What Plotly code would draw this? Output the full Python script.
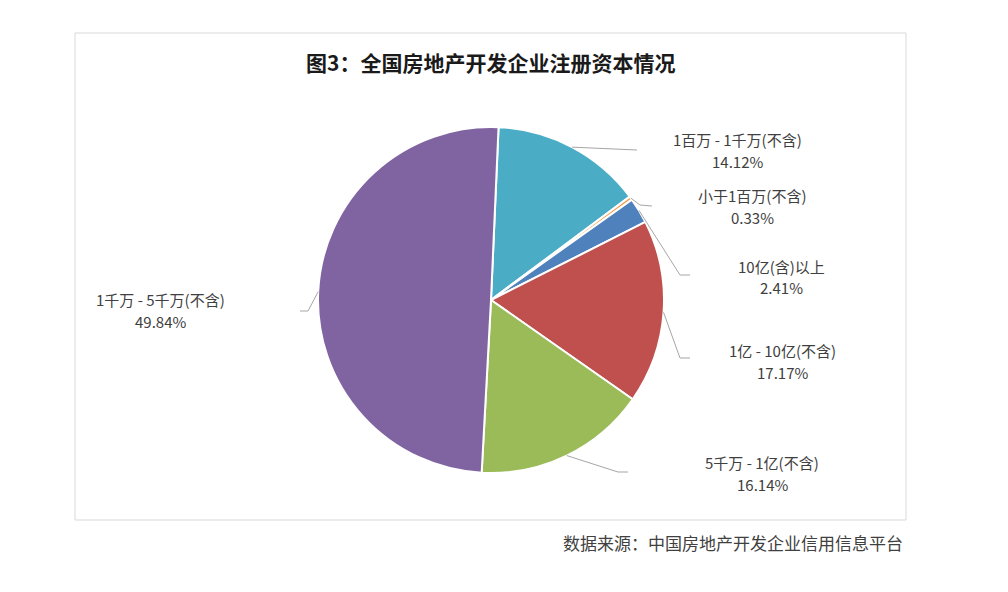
import math
import plotly.graph_objects as go

# data
labels = ['1百万 - 1千万(不含)', '小于1百万(不含)', '10亿(含)以上',
          '1亿 - 10亿(不含)', '5千万 - 1亿(不含)', '1千万 - 5千万(不含)']
values = [14.12, 0.33, 2.41, 17.17, 16.14, 49.84]
colors = ['#4BACC6', '#F79646', '#4F81BD', '#C0504D', '#9BBB59', '#8064A2']

# page has an 8px body margin, so the figure is 1000x584 drawn at (8, 8)
OFF = 8
W, H = 1000, 584
cx, cy, r = 491, 300, 173
rot = 2.5

# label anchor (text center) and leader elbow/end, in window pixels
label_pos = [(737, 150), (752, 206), (781, 277), (782, 361), (762, 473), (160, 310)]
elbows = [(637, 150), (640, 205), (680, 275), (680, 358), (618, 472), (308, 311)]
ends = [(637, 150), (652, 206), (690, 275), (690, 358), (628, 472), (300, 311)]


def px(x, y):
    return (x - OFF) / W, 1 - (y - OFF) / H


x0d, y1d = px(cx - r, cy - r)
x1d, y0d = px(cx + r, cy + r)
fig = go.Figure(go.Pie(
    labels=labels, values=values, sort=False, direction='clockwise',
    rotation=rot, textinfo='none', hoverinfo='label+percent',
    marker=dict(colors=colors, line=dict(color='white', width=2)),
    domain=dict(x=[x0d, x1d], y=[y0d, y1d]),
    showlegend=False,
))

fx0, fy1 = px(75, 33)
fx1, fy0 = px(906, 520)
shapes = [dict(type='rect', xref='paper', yref='paper',
               x0=fx0, x1=fx1, y0=fy0, y1=fy1,
               line=dict(color='#D9D9D9', width=1), layer='below')]
annotations = []

total = sum(values)
acc = 0
for i, v in enumerate(values):
    mid = rot + (acc + v / 2) / total * 360
    acc += v
    a = math.radians(mid)
    sx, sy = cx + r * math.sin(a), cy - r * math.cos(a)
    pts = [(sx, sy), elbows[i], ends[i]]
    path = 'M ' + ' L '.join('%f,%f' % px(*p) for p in pts)
    shapes.append(dict(type='path', xref='paper', yref='paper', path=path,
                       line=dict(color='#A6A6A6', width=1)))
    lx0, ly0 = label_pos[i]
    for txt, dy in ((labels[i], -11), ('%.2f%%' % v, 11)):
        lx, ly = px(lx0, ly0 + dy)
        annotations.append(dict(
            x=lx, y=ly, xref='paper', yref='paper', showarrow=False,
            xanchor='center', yanchor='middle', text=txt, borderpad=0,
            font=dict(size=15, color='#404040')))

tx, ty = px(490, 62)
annotations.append(dict(x=tx, y=ty, xref='paper', yref='paper', showarrow=False,
                        xanchor='center', yanchor='middle',
                        text='<b>图3：全国房地产开发企业注册资本情况</b>',
                        font=dict(size=21, color='#1a1a1a')))
sx_, sy_ = px(905, 542)
annotations.append(dict(x=sx_, y=sy_, xref='paper', yref='paper',
                        showarrow=False, xanchor='right', yanchor='middle',
                        text='数据来源：中国房地产开发企业信用信息平台',
                        font=dict(size=17, color='#404040')))

fig.update_layout(
    width=W, height=H, margin=dict(l=0, r=0, t=0, b=0),
    paper_bgcolor='white', plot_bgcolor='white',
    font=dict(family='Noto Sans CJK SC, sans-serif'),
    shapes=shapes, annotations=annotations,
)

fig.write_html('out.html')
